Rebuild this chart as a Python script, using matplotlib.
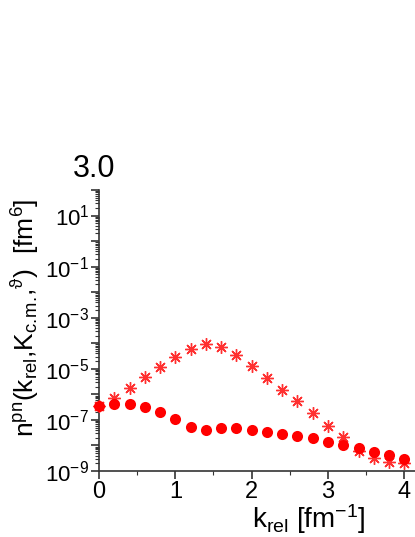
import matplotlib
matplotlib.use("Agg")
import matplotlib.pyplot as plt
import numpy as np

plt.rcParams['font.family'] = ['Liberation Sans', 'DejaVu Sans']
plt.rcParams['mathtext.fontset'] = 'custom'
plt.rcParams['mathtext.rm'] = 'Liberation Sans'
plt.rcParams['mathtext.it'] = 'Liberation Sans'
plt.rcParams['mathtext.bf'] = 'Liberation Sans:bold'

# data (log10 of n)
k_rel = [0.0, 0.2, 0.4, 0.6, 0.8, 1.0, 1.2, 1.4, 1.6, 1.8, 2.0,
         2.2, 2.4, 2.6, 2.8, 3.0, 3.2, 3.4, 3.6, 3.8, 4.0]
log_circles = [-6.46, -6.37, -6.37, -6.50, -6.70, -6.96, -7.29, -7.39, -7.31, -7.32, -7.38,
               -7.46, -7.55, -7.63, -7.72, -7.86, -7.97, -8.11, -8.24, -8.37, -8.53]
log_stars = [-6.45, -6.14, -5.76, -5.33, -4.93, -4.54, -4.22, -4.03, -4.15, -4.44, -4.90,
             -5.35, -5.81, -6.27, -6.74, -7.24, -7.68, -8.20, -8.50, -8.63, -8.69]
panel_title = "3.0"
ytick_exp = [1, -1, -3, -5, -7, -9]
xticks = [0, 1, 2, 3, 4]

fig = plt.figure(figsize=(4.15, 5.37), dpi=100)
ax = fig.add_axes([99/415, 66/537, 316/415, 281/537])

circ = 10.0**np.array(log_circles)
star = 10.0**np.array(log_stars)

ax.plot(k_rel, star, linestyle='none', marker=(8, 2, 0), markersize=9,
        markeredgewidth=1.0, color='#ff3030', clip_on=False, zorder=3)
ax.plot(k_rel, circ, linestyle='none', marker='o', markersize=8,
        color='#ff0000', markeredgewidth=0, clip_on=False, zorder=4)

ax.set_yscale('log')
ax.set_ylim(1e-9, 1e2)
ax.set_xlim(0, 4.14)

ax.set_yticks([10.0**e for e in range(-9, 3)])
ax.set_yticklabels([r'$10^{%d}$' % e if e in ytick_exp else '' for e in range(-9, 3)])
ax.yaxis.set_minor_locator(matplotlib.ticker.LogLocator(base=10, subs=np.arange(2, 10), numticks=100))
ax.yaxis.set_minor_formatter(matplotlib.ticker.NullFormatter())

ax.set_xticks(xticks)
ax.set_xticklabels([str(v) for v in xticks])
ax.set_xticks([0.5, 1.5, 2.5, 3.5], minor=True)

ax.spines['top'].set_visible(False)
ax.spines['right'].set_visible(False)
for s in ['left', 'bottom']:
    ax.spines[s].set_linewidth(1.2)
    ax.spines[s].set_color('#333333')

ax.tick_params(axis='both', which='major', direction='out', length=6, width=1.2,
               labelsize=16, colors='#333333', labelcolor='black', pad=1)
ax.tick_params(axis='x', which='major', labelsize=17)
ax.tick_params(axis='both', which='minor', direction='out', length=3, width=0.8,
               colors='#333333')

ax.set_xlabel(r'$\mathrm{k_{rel}}$ $\mathrm{[fm^{-1}]}$', fontsize=20)
ax.xaxis.set_label_coords(0.665, -0.112)
ax.set_ylabel(r'$\mathrm{n^{pn}(k_{rel}{,}K_{c.\!m.\!}{,}^{ϑ})}$  $\mathrm{[fm^{6}]}$',
              fontsize=19)
ax.yaxis.set_label_coords(-0.185, 0.545)

fig.text(73/415, (537-177)/537, panel_title, fontsize=22, ha='left', va='baseline')

fig.savefig('out.png', dpi=100)
